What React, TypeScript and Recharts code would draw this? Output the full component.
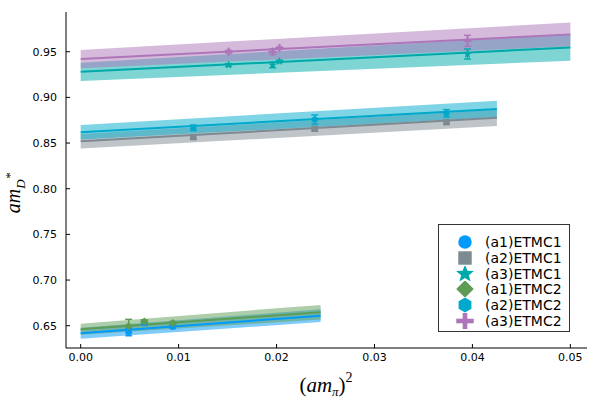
import React from "react";
import { ComposedChart, Area, Line, Scatter, ErrorBar, XAxis, YAxis } from "recharts";

const xTicks = [0, 0.01, 0.02, 0.03, 0.04, 0.05];
const yTicks = [0.65, 0.7, 0.75, 0.8, 0.85, 0.9, 0.95];

const names = ["(a1)ETMC1", "(a2)ETMC1", "(a3)ETMC1", "(a1)ETMC2", "(a2)ETMC2", "(a3)ETMC2"];
const colors = ["#009AFA", "#7D8A92", "#00A9A9", "#5E9B55", "#00A9CC", "#AE76BA"];
const markers = ["circle", "square", "star", "diamond", "hexagon", "plus"];

// fit lines: x ends, central values, band half widths
const fitX = [
  [0, 0.0245],
  [0, 0.0425],
  [0, 0.05],
  [0, 0.0245],
  [0, 0.0425],
  [0, 0.05],
];
const fitY = [
  [0.6418, 0.661],
  [0.852, 0.8776],
  [0.928, 0.9547],
  [0.6462, 0.6648],
  [0.8619, 0.8874],
  [0.942, 0.969],
];
const fitErr = [
  [0.006, 0.007],
  [0.008, 0.009],
  [0.01, 0.0145],
  [0.006, 0.008],
  [0.008, 0.009],
  [0.01, 0.013],
];

// lattice points
const pointX = [
  [0.0049, 0.0065, 0.0094],
  [0.0115, 0.0239, 0.03735],
  [0.0151, 0.0196, 0.0203, 0.0395],
  [0.0049, 0.0065, 0.0094],
  [0.0115, 0.0239, 0.03735],
  [0.0151, 0.0196, 0.0203, 0.0395],
];
const pointY = [
  [0.643, 0.653, 0.649],
  [0.8565, 0.8656, 0.8728],
  [0.9355, 0.9355, 0.9394, 0.9475],
  [0.6495, 0.6545, 0.6527],
  [0.8667, 0.8758, 0.8826],
  [0.95, 0.95, 0.954, 0.962],
];
const pointErr = [
  [0.004, 0.002, 0.002],
  [0.002, 0.002, 0.002],
  [0.0015, 0.003, 0.0012, 0.0055],
  [0.0075, 0.002, 0.002],
  [0.003, 0.005, 0.004],
  [0.0015, 0.003, 0.0012, 0.006],
];

function Marker({ cx, cy, kind, color, s = 1 }: any) {
  if (cx == null || cy == null) return null;
  const r = 3.2 * s;
  if (kind === "circle") return <circle cx={cx} cy={cy} r={r} fill={color} />;
  if (kind === "square") return <rect x={cx - r} y={cy - r} width={2 * r} height={2 * r} fill={color} />;
  if (kind === "diamond") {
    const d = r * 1.3;
    return <polygon points={`${cx},${cy - d} ${cx + d},${cy} ${cx},${cy + d} ${cx - d},${cy}`} fill={color} />;
  }
  if (kind === "hexagon") {
    const pts = [0, 1, 2, 3, 4, 5]
      .map((i) => {
        const a = (Math.PI / 3) * i + Math.PI / 6;
        return `${cx + r * 1.1 * Math.cos(a)},${cy + r * 1.1 * Math.sin(a)}`;
      })
      .join(" ");
    return <polygon points={pts} fill={color} />;
  }
  if (kind === "star") {
    const pts = [];
    for (let i = 0; i < 10; i++) {
      const a = -Math.PI / 2 + (Math.PI / 5) * i;
      const rr = i % 2 === 0 ? r * 1.4 : r * 0.6;
      pts.push(`${cx + rr * Math.cos(a)},${cy + rr * Math.sin(a)}`);
    }
    return <polygon points={pts.join(" ")} fill={color} />;
  }
  const p = r * 1.3;
  return (
    <g stroke={color} strokeWidth={2.2 * s}>
      <line x1={cx - p} y1={cy} x2={cx + p} y2={cy} />
      <line x1={cx} y1={cy - p} x2={cx} y2={cy + p} />
    </g>
  );
}

const bandData = fitX.map((xs, i) =>
  xs.map((x, j) => ({ x, band: [fitY[i][j] - fitErr[i][j], fitY[i][j] + fitErr[i][j]] }))
);
const lineData = fitX.map((xs, i) => xs.map((x, j) => ({ x, y: fitY[i][j] })));
const pointData = pointX.map((xs, i) => xs.map((x, j) => ({ x, y: pointY[i][j], err: pointErr[i][j] })));

const tickFont = { fontFamily: "DejaVu Sans", fontSize: 11, fill: "#000" };

const yLabel = () => (
  <text
    transform="translate(20,193) rotate(-90)"
    textAnchor="middle"
    fontFamily="Liberation Serif"
    fontStyle="italic"
    fontSize={20}
  >
    am<tspan dy={5} fontSize={13}>D</tspan>
    <tspan dy={-11} fontSize={13}>*</tspan>
  </text>
);

const xLabel = () => (
  <text x={326} y={392} textAnchor="middle" fontFamily="Liberation Serif" fontSize={21}>
    (<tspan fontStyle="italic">am</tspan>
    <tspan dy={4} fontSize={13} fontStyle="italic">π</tspan>
    <tspan dy={-4}>)</tspan>
    <tspan dy={-10} fontSize={14}>2</tspan>
  </text>
);

function LegendBox() {
  return (
    <div
      style={{
        position: "absolute",
        left: 438,
        top: 224,
        width: 132,
        height: 108,
        border: "1px solid #333",
        background: "#fff",
        boxSizing: "border-box",
        paddingTop: 9,
      }}
    >
      {names.map((n, i) => (
        <div key={n} style={{ display: "flex", alignItems: "center", height: 15.8 }}>
          <svg width={18} height={16} style={{ marginLeft: 17 }}>
            <Marker cx={9} cy={8} kind={markers[i]} color={colors[i]} s={2.1} />
          </svg>
          <span style={{ marginLeft: 11, fontFamily: "DejaVu Sans", fontSize: 14, color: "#000" }}>{n}</span>
        </div>
      ))}
    </div>
  );
}

export default function App() {
  return (
    <div style={{ position: "absolute", left: 0, top: 0, width: 600, height: 400, background: "#fff" }}>
      <ComposedChart width={600} height={400} margin={{ top: 12, right: 13, left: 0, bottom: 0 }}>
        <XAxis
          type="number"
          dataKey="x"
          domain={[-0.0015, 0.0517]}
          ticks={xTicks}
          allowDataOverflow
          tickFormatter={(v: number) => v.toFixed(2)}
          tick={tickFont}
          tickSize={-4}
          tickMargin={9}
          height={52}
          stroke="#000"
          label={{ content: xLabel }}
        />
        <YAxis
          type="number"
          domain={[0.6256, 0.9935]}
          ticks={yTicks}
          allowDataOverflow
          tickFormatter={(v: number) => v.toFixed(2)}
          tick={tickFont}
          tickSize={-4}
          tickMargin={13}
          width={66}
          stroke="#000"
          label={{ content: yLabel }}
        />
        {bandData.map((d, i) => (
          <Area
            key={"b" + i}
            data={d}
            dataKey="band"
            type="linear"
            fill={colors[i]}
            fillOpacity={0.5}
            stroke="none"
            isAnimationActive={false}
          />
        ))}
        {lineData.map((d, i) => (
          <Line
            key={"l" + i}
            data={d}
            dataKey="y"
            type="linear"
            stroke={colors[i]}
            strokeWidth={2}
            dot={false}
            activeDot={false}
            isAnimationActive={false}
          />
        ))}
        {pointData.map((d, i) => (
          <Scatter
            key={"p" + i}
            data={d}
            dataKey="y"
            isAnimationActive={false}
            shape={(p: any) => <Marker cx={p.cx} cy={p.cy} kind={markers[i]} color={colors[i]} />}
          >
            <ErrorBar dataKey="err" direction="y" width={3.5} stroke={colors[i]} strokeWidth={1.4} />
          </Scatter>
        ))}
      </ComposedChart>
      <LegendBox />
    </div>
  );
}
